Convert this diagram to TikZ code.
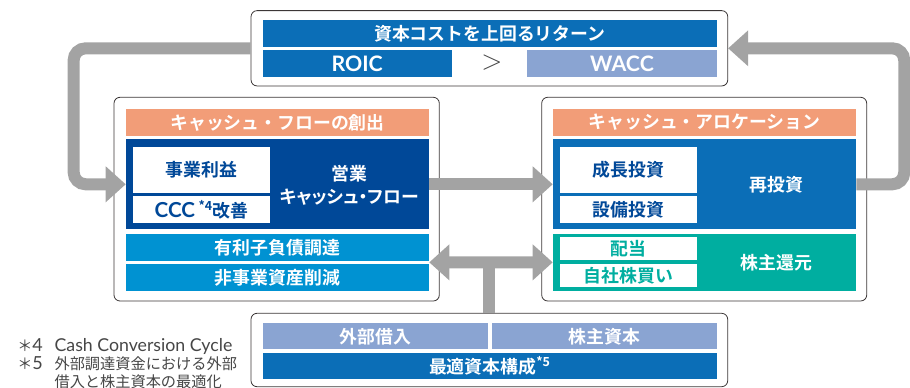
\documentclass[tikz,border=0pt]{standalone}
\usepackage{fontspec}
\setmainfont{Noto Sans CJK JP}[BoldFont={Noto Sans CJK JP Bold}]
\newfontfamily\lat{Lato}
\usetikzlibrary{arrows.meta,calc}
\definecolor{midblue}{RGB}{11,110,183}
\definecolor{navy}{RGB}{0,72,152}
\definecolor{sky}{RGB}{0,146,210}
\definecolor{lavender}{RGB}{138,164,210}
\definecolor{salmon}{RGB}{242,157,120}
\definecolor{teal}{RGB}{0,174,160}
\definecolor{arrowgray}{RGB}{163,163,163}
\definecolor{framegray}{RGB}{60,55,55}
\definecolor{notegray}{RGB}{70,70,70}
\begin{document}
\begin{tikzpicture}[x=0.75pt,y=-0.75pt,
sz/.style 2 args={minimum width=#1*0.75pt,minimum height=#2*0.75pt,inner sep=0pt},
bar/.style={fill=#1,text=white,font=\bfseries\fontsize{13.4}{15}\selectfont},
wbox/.style={fill=white,text=#1,font=\bfseries\fontsize{13.4}{15}\selectfont},
latin/.style={font=\lat\bfseries\fontsize{16}{18}\selectfont},
panel/.style={draw=framegray,line width=0.6pt,rounded corners=4.5pt},
flow/.style={draw=arrowgray,line width=9pt,rounded corners=9pt,-{Triangle[length=15pt,width=26pt]}}]
\useasboundingbox(0,0)rectangle(910,388);
\node[panel,sz={476.7}{75.3}](top)at(489.4,48.3){};
\node[bar=midblue,sz={454.3}{26.7}](ret)at(489.85,33.35){資本コストを上回るリターン};
\node[bar=midblue,latin,sz={189}{26.7}](roic)at(357.2,63.35){ROIC};
\node[text=notegray,font=\fontsize{20}{20}\selectfont,inner sep=0pt](gt)at(492,63){$>$};
\node[bar=lavender,latin,sz={190}{26.7}](wacc)at(622,63.35){WACC};
\node[panel,sz={325.3}{203.7}](cfp)at(276.65,199.15){};
\node[bar=salmon,sz={303}{27}](cfh)at(277.5,122.5){キャッシュ・フローの創出};
\node[bar=navy,sz={303}{90}](opcf)at(277.5,184.3){};
\node[text=white,align=center,font=\bfseries\fontsize{13.4}{17}\selectfont\addfontfeature{RawFeature=+palt}](opcft)at(349.5,185){営業\\キャッシュ・フロー};
\node[wbox=navy,sz={136.7}{46.6}](prof)at(201.65,170){事業利益};
\node[wbox=navy,sz={136.7}{26.7}](ccc)at(201.65,209.35){{\lat\fontsize{15.5}{15}\selectfont CCC\,}\textsuperscript{*4}改善};
\node[bar=sky,sz={303}{26.7}](debt)at(277.5,247.35){有利子負債調達};
\node[bar=sky,sz={303}{26.7}](asset)at(277.5,277.35){非事業資産削減};
\node[panel,sz={325}{203.7}](cap)at(704.2,199.15){};
\node[bar=salmon,sz={303}{27}](cah)at(704.5,122.5){キャッシュ・アロケーション};
\node[bar=midblue,sz={303}{90}](reinv)at(704.5,184.3){};
\node[text=white,font=\bfseries\fontsize{13.4}{15}\selectfont](reinvt)at(776.5,184.3){再投資};
\node[wbox=navy,sz={137}{46.6}](grow)at(628.5,170){成長投資};
\node[wbox=navy,sz={137}{26.7}](capex)at(628.5,209.35){設備投資};
\node[bar=teal,sz={303}{56.7}](shret)at(704.5,262.35){};
\node[text=white,font=\bfseries\fontsize{13.4}{15}\selectfont](shrett)at(776.5,262.35){株主還元};
\node[wbox=teal,sz={137}{23.3}](div)at(628.5,248.35){配当};
\node[wbox=teal,sz={137}{23.3}](buy)at(628.5,275.65){自社株買い};
\node[panel,sz={476.7}{73.4}](bot)at(489.35,350){};
\node[bar=lavender,sz={225}{26}](borrow)at(375.2,336.3){外部借入};
\node[bar=lavender,sz={225.3}{26}](equity)at(604.35,336.3){株主資本};
\node[bar=midblue,sz={454.3}{26.6}](optcap)at(489.85,366){最適資本構成\textsuperscript{*5}};
\node[anchor=west,align=left,text=notegray,inner sep=0pt,font=\fontsize{11.4}{13.5}\selectfont](note)at(17,364)
{\makebox[28pt][l]{＊{\lat\fontsize{13.5}{13}\selectfont 4}}{\lat\fontsize{13.3}{13.5}\selectfont Cash Conversion Cycle}\\
\makebox[28pt][l]{＊{\lat\fontsize{13.5}{13}\selectfont 5}}外部調達資金における外部\\\hspace*{28pt}借入と株主資本の最適化};
\draw[flow](top.west)--++(-177,0)|-(opcf.west);
\draw[flow](reinv.east)--++(48,0)|-(top.east);
\draw[flow](opcf.east)--(reinv.west);
\coordinate(fund)at($(debt.south east)!.5!(asset.north east)$);
\draw[draw=arrowgray,line width=9pt](bot.north)--(bot.north|-shret.west);
\draw[flow,{Triangle[length=15pt,width=26pt]}-{Triangle[length=15pt,width=26pt]}](fund)--(shret.west);
\end{tikzpicture}
\end{document}
